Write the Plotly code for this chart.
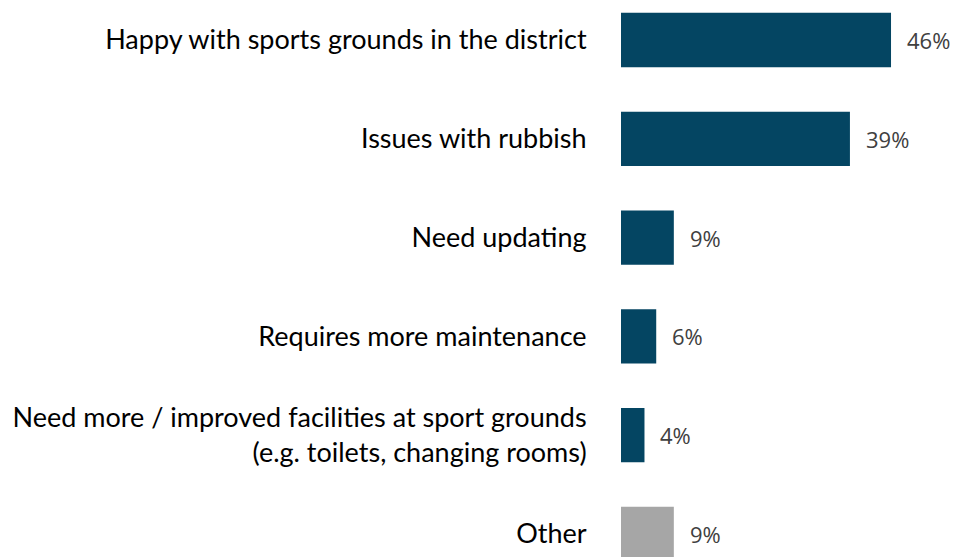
import plotly.graph_objects as go

# Survey responses about local sports grounds
categories = [
    "Happy with sports grounds in the district",
    "Issues with rubbish",
    "Need updating",
    "Requires more maintenance",
    "Need more / improved facilities at sport grounds<br>(e.g. toilets, changing rooms)",
    "Other",
]
values = [46, 39, 9, 6, 4, 9]
value_labels = ["46%", "39%", "9%", "6%", "4%", "9%"]

NAVY = "#044562"
GREY = "#A6A6A6"
bar_colors = [NAVY, NAVY, NAVY, NAVY, NAVY, GREY]

W, H = 953, 557
x0_px = 621
px_per_unit = 5.87
row_px = 98.8
first_center_px = 40

fig = go.Figure()
fig.add_trace(go.Bar(
    y=list(range(len(categories))),
    x=values,
    orientation="h",
    width=0.55,
    marker=dict(color=bar_colors, line=dict(width=0)),
    hoverinfo="skip",
))

# value labels to the right of each bar
for i, (v, lab) in enumerate(zip(values, value_labels)):
    fig.add_annotation(
        x=v, y=i, text=lab, showarrow=False,
        xanchor="left", yanchor="middle", xshift=14,
        font=dict(family="Open Sans", size=22, color="#404040"),
    )

y_top = -first_center_px / row_px
y_bottom = (H - first_center_px) / row_px

fig.update_layout(
    width=W, height=H,
    margin=dict(l=0, r=0, t=0, b=0),
    paper_bgcolor="white", plot_bgcolor="white",
    showlegend=False,
    bargap=0.45,
)
fig.update_xaxes(
    domain=[x0_px / W, 1],
    range=[0, (W - x0_px) / px_per_unit],
    visible=False,
)
fig.update_yaxes(
    range=[y_bottom, y_top],
    tickmode="array",
    tickvals=list(range(len(categories))),
    ticktext=categories,
    ticks="outside", ticklen=28, tickcolor="rgba(0,0,0,0)",
    showgrid=False, zeroline=False, showline=False,
    tickfont=dict(family="Lato", size=27, color="#000000"),
)

fig.write_html("out.html")
